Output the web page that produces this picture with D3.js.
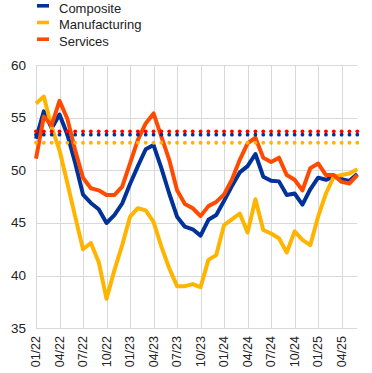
<!DOCTYPE html>
<html>
  <head>
    <style>
      body,
      html {
        margin: 0;
        padding: 0;
        background: #fff;
      }
      text {
        font-family: Arial, 'Liberation Sans', sans-serif;
        fill: #222;
      }
    </style>
  </head>
  <body>
    <svg id="svg" width="372" height="373"></svg>
    <script src="https://cdn.jsdelivr.net/npm/d3@7"></script>
    <script>
      const months = [
        '01/22', '02/22', '03/22', '04/22', '05/22', '06/22', '07/22', '08/22', '09/22', '10/22', '11/22', '12/22',
        '01/23', '02/23', '03/23', '04/23', '05/23', '06/23', '07/23', '08/23', '09/23', '10/23', '11/23', '12/23',
        '01/24', '02/24', '03/24', '04/24', '05/24', '06/24', '07/24', '08/24', '09/24', '10/24', '11/24', '12/24',
        '01/25', '02/25', '03/25', '04/25', '05/25', '06/25'
      ];
      const tickMonths = ['01/22', '04/22', '07/22', '10/22', '01/23', '04/23', '07/23', '10/23', '01/24', '04/24', '07/24', '10/24', '01/25', '04/25'];
      const yTicks = [35, 40, 45, 50, 55, 60];

      const composite = [
        53.0, 55.6, 54.0, 55.3, 53.4, 50.7, 47.7, 46.9, 46.3, 45.0, 45.75, 46.85,
        48.7, 50.4, 52.0, 52.4, 50.2, 47.8, 45.6, 44.65, 44.4, 43.8, 45.3, 45.75,
        47.1, 48.5, 49.8, 50.4, 51.55, 49.4, 49.0, 48.95, 47.65, 47.8, 46.75, 48.2,
        49.3, 49.1, 49.4, 49.15, 49.0, 49.65
      ];
      const manufacturing = [
        56.35, 57.0, 54.1, 51.9, 48.8, 45.6, 42.5, 43.1, 41.3, 37.8, 40.5, 42.9,
        45.6, 46.4, 46.2, 45.1, 42.75, 40.7, 39.0, 39.0, 39.2, 38.9, 41.5, 41.95,
        44.8, 45.35, 45.9, 44.1, 47.25, 44.33, 44.0, 43.55, 42.2, 44.2, 43.4, 42.9,
        45.6, 47.8, 49.4, 49.55, 49.7, 50.1
      ];
      const services = [
        51.1, 55.1, 54.3, 56.6, 54.9, 51.9, 49.3, 48.3, 48.1, 47.65, 47.65, 48.45,
        50.65, 52.9, 54.45, 55.4, 53.2, 51.0, 48.1, 46.8, 46.4, 45.65, 46.6, 47.0,
        47.7, 49.1, 51.0, 52.55, 53.1, 51.2, 50.8, 51.2, 49.55, 49.1, 48.1, 50.2,
        50.65, 49.55, 49.55, 48.9, 48.75, 49.55
      ];
      // long-term averages, drawn as dotted lines
      const servicesAvg = 53.7;
      const compositeAvg = 53.38;
      const manufacturingAvg = 52.62;

      const series = [
        { name: 'Composite', values: composite, color: '#003299' },
        { name: 'Manufacturing', values: manufacturing, color: '#ffb400' },
        { name: 'Services', values: services, color: '#ff4b00' }
      ];
      const averages = [
        { value: manufacturingAvg, color: '#ffb400' },
        { value: compositeAvg, color: '#003299' },
        { value: servicesAvg, color: '#ff0000' }
      ];

      const svg = d3.select('#svg');

      const xScale = d3.scalePoint().domain(months).range([36, 357.3]);
      const yScale = d3.scaleLinear().domain([35, 60]).range([328.3, 65]);

      // grid
      const grid = svg.append('g').attr('stroke', '#d9d9d9').attr('stroke-width', 1);
      grid
        .selectAll('line.h')
        .data(yTicks)
        .enter()
        .append('line')
        .attr('x1', 36)
        .attr('x2', 357.3)
        .attr('y1', (d) => Math.round(yScale(d)) + 0.5)
        .attr('y2', (d) => Math.round(yScale(d)) + 0.5);
      grid
        .selectAll('line.v')
        .data(tickMonths)
        .enter()
        .append('line')
        .attr('x1', (d) => Math.round(xScale(d)) + 0.5)
        .attr('x2', (d) => Math.round(xScale(d)) + 0.5)
        .attr('y1', yScale(60))
        .attr('y2', yScale(35));

      // y labels
      svg
        .append('g')
        .selectAll('text')
        .data(yTicks)
        .enter()
        .append('text')
        .attr('x', 26)
        .attr('y', (d) => yScale(d))
        .attr('text-anchor', 'end')
        .attr('dominant-baseline', 'central')
        .attr('font-size', 13.5)
        .text((d) => d);

      // x labels
      svg
        .append('g')
        .selectAll('text')
        .data(tickMonths)
        .enter()
        .append('text')
        .attr('transform', (d) => `translate(${xScale(d)},336) rotate(-90)`)
        .attr('text-anchor', 'end')
        .attr('dominant-baseline', 'central')
        .attr('font-size', 12.5)
        .text((d) => d);

      const linegen = d3
        .line()
        .x((d, i) => xScale(months[i]))
        .y((d) => yScale(d));

      svg
        .append('g')
        .selectAll('path')
        .data(series)
        .enter()
        .append('path')
        .attr('d', (d) => linegen(d.values))
        .attr('fill', 'none')
        .attr('stroke', (d) => d.color)
        .attr('stroke-width', 4)
        .attr('stroke-linejoin', 'round');

      // dotted average lines, one dot per month
      averages.forEach((a) => {
        svg
          .append('g')
          .selectAll('circle')
          .data(months)
          .enter()
          .append('circle')
          .attr('cx', (d) => xScale(d))
          .attr('cy', yScale(a.value))
          .attr('r', 1.9)
          .attr('fill', a.color);
      });

      // legend
      const legend = svg
        .append('g')
        .selectAll('g')
        .data(series)
        .enter()
        .append('g')
        .attr('transform', (d, i) => `translate(0,${i * 16.7})`);
      legend
        .append('rect')
        .attr('x', 37)
        .attr('y', 4)
        .attr('width', 12)
        .attr('height', 3.6)
        .attr('fill', (d) => d.color);
      legend
        .append('text')
        .attr('x', 59)
        .attr('y', 12.6)
        .attr('font-size', 13)
        .text((d) => d.name);
    </script>
  </body>
</html>
